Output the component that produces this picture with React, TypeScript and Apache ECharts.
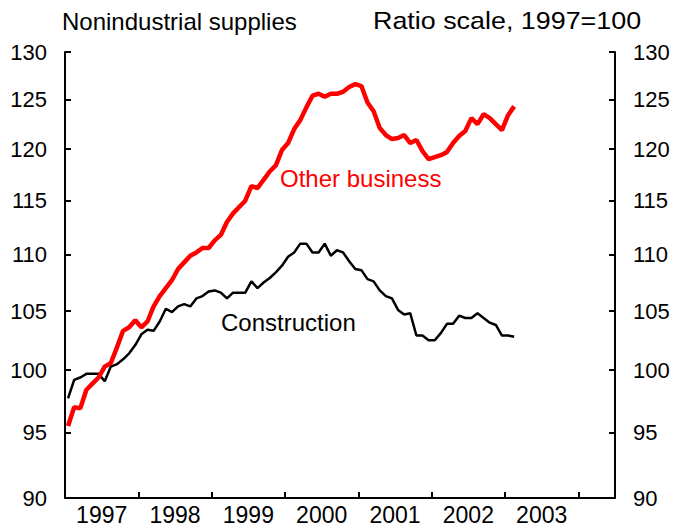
import React, { useEffect, useRef } from "react";
import * as echarts from "echarts";

// Monthly index values, Jan 1997 – Feb 2003 (ratio scale, 1997=100)
const otherBusiness = [
  95.5, 97.0, 96.9, 98.4, 98.9, 99.4, 100.3, 100.6, 101.9, 103.3, 103.6, 104.2,
  103.6, 104.1, 105.4, 106.3, 107.0, 107.7, 108.7, 109.3, 109.9, 110.2, 110.6, 110.6,
  111.3, 111.8, 113.0, 113.8, 114.4, 115.0, 116.4, 116.2, 117.0, 117.8, 118.4, 119.9,
  120.6, 122.0, 122.9, 124.2, 125.4, 125.6, 125.3, 125.6, 125.6, 125.8, 126.3, 126.6,
  126.4, 124.7, 123.8, 122.1, 121.4, 121.0, 121.1, 121.4, 120.6, 120.9, 119.8, 119.0,
  119.2, 119.4, 119.7, 120.6, 121.3, 121.8, 123.1, 122.5, 123.5, 123.1, 122.5, 121.9,
  123.4, 124.3,
];
const construction = [
  97.7, 99.2, 99.4, 99.7, 99.7, 99.7, 99.1, 100.3, 100.5, 100.9, 101.4, 102.1,
  103.0, 103.4, 103.3, 104.1, 105.2, 104.9, 105.4, 105.6, 105.4, 106.1, 106.3, 106.7,
  106.8, 106.6, 106.1, 106.6, 106.6, 106.6, 107.6, 107.0, 107.5, 107.9, 108.4, 109.0,
  109.8, 110.2, 111.0, 111.0, 110.2, 110.2, 111.0, 109.9, 110.4, 110.2, 109.4, 108.7,
  108.6, 107.8, 107.6, 106.8, 106.3, 106.1, 105.1, 104.7, 104.8, 102.9, 102.9, 102.5,
  102.5, 103.1, 103.9, 103.9, 104.6, 104.4, 104.4, 104.8, 104.4, 104.0, 103.8, 102.9,
  102.9, 102.8,
];
const startYear = 1997;
const yTicks = [90, 95, 100, 105, 110, 115, 120, 125, 130];
const yearTicks = [1998, 1999, 2000, 2001, 2002, 2003, 2004];
const yearLabels = [1997, 1998, 1999, 2000, 2001, 2002, 2003];

const FONT = "'Liberation Sans', Arial, sans-serif";

export default function App() {
  const ref = useRef<HTMLDivElement>(null);
  useEffect(() => {
    if (!ref.current) return;
    const chart = echarts.init(ref.current, null, { renderer: "svg" });
    const toPts = (arr: number[]) =>
      arr.map((v, i) => [startYear + (i + 0.5) / 12, Math.log(v)]);
    const logTicks = yTicks.map((v) => Math.log(v));
    const yAxisBase = (pos: "left" | "right") => ({
      type: "value" as const,
      position: pos,
      min: Math.log(90),
      max: Math.log(130),
      splitLine: { show: false },
      axisLine: { show: true, lineStyle: { color: "#000", width: 2 } },
      axisTick: {
        show: true,
        inside: true,
        length: 6,
        lineStyle: { color: "#000", width: 2 },
        customValues: logTicks,
      },
      axisLabel: {
        customValues: logTicks,
        formatter: (v: number) => String(Math.round(Math.exp(v))),
        color: "#000",
        fontSize: 22,
        fontFamily: FONT,
        margin: 18,
      },
    });
    chart.setOption({
      animation: false,
      grid: { left: 65, right: 59, top: 52, bottom: 31, containLabel: false },
      xAxis: {
        type: "value",
        min: 1997,
        max: 2004.5,
        splitLine: { show: false },
        axisLine: { show: true, onZero: false, lineStyle: { color: "#000", width: 2 } },
        axisTick: {
          show: true,
          inside: true,
          length: 6,
          lineStyle: { color: "#000", width: 2 },
          customValues: yearTicks,
        },
        axisLabel: {
          customValues: yearLabels.map((y) => y + 0.5),
          formatter: (v: number) => String(Math.floor(v)),
          color: "#000",
          fontSize: 23,
          fontFamily: FONT,
          margin: 5,
        },
      },
      yAxis: [yAxisBase("left"), yAxisBase("right")],
      series: [
        {
          type: "line",
          name: "Construction",
          data: toPts(construction),
          showSymbol: false,
          lineStyle: { color: "#000", width: 2.5 },
          yAxisIndex: 0,
        },
        {
          type: "line",
          name: "Other business",
          data: toPts(otherBusiness),
          showSymbol: false,
          lineStyle: { color: "#ff0000", width: 4.5 },
          yAxisIndex: 0,
        },
      ],
      graphic: [
        {
          type: "text",
          x: 62,
          y: 21,
          style: { text: "Nonindustrial supplies", font: `24px ${FONT}`, fill: "#000", verticalAlign: "middle", align: "left" },
        },
        {
          type: "text",
          x: 373,
          y: 21,
          scaleX: 1.12,
          style: { text: "Ratio scale, 1997=100", font: `24px ${FONT}`, fill: "#000", verticalAlign: "middle", align: "left" },
        },
        {
          type: "text",
          x: 280,
          y: 178,
          style: { text: "Other business", font: `24px ${FONT}`, fill: "#ff0000", verticalAlign: "middle", align: "left" },
        },
        {
          type: "text",
          x: 221,
          y: 322,
          style: { text: "Construction", font: `24px ${FONT}`, fill: "#000", verticalAlign: "middle", align: "left" },
        },
      ],
    });
    return () => chart.dispose();
  }, []);
  return (
    <div
      ref={ref}
      style={{ position: "absolute", left: 0, top: 0, width: 674, height: 529 }}
    />
  );
}
